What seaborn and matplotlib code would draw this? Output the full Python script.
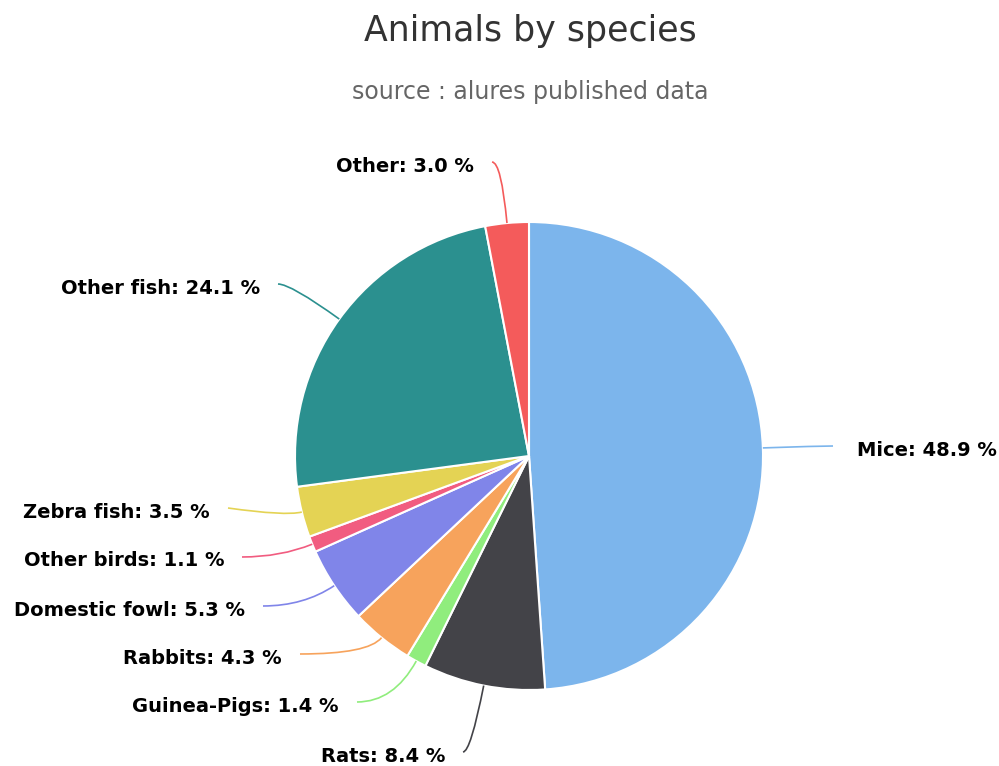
import numpy as np
import matplotlib
matplotlib.use("Agg")
import matplotlib.pyplot as plt
from matplotlib.path import Path
from matplotlib.patches import PathPatch
import seaborn as sns

""" Data """
species = ["Mice", "Rats", "Guinea-Pigs", "Rabbits", "Domestic fowl",
           "Other birds", "Zebra fish", "Other fish", "Other"]
shares = [48.9, 8.4, 1.4, 4.3, 5.3, 1.1, 3.5, 24.1, 3.0]
colors = ["#7cb5ec", "#434348", "#90ed7d", "#f7a35c", "#8085e9",
          "#f15c80", "#e4d354", "#2b908f", "#f45b5b"]

""" Layout (pixel coords, y from top) """
W, H = 999, 766
cx, cy, R = 529, 456, 234
# end of connector, label side ('left' = text sits right of point)
label_pts = [(833, 446, "left"), (463, 752, "right"), (357, 702, "right"),
             (300, 654, "right"), (263, 606, "right"), (242, 557, "right"),
             (228, 508, "right"), (278, 284, "right"), (492, 162, "right")]

sns.set_theme(style="white")
plt.rcParams["font.family"] = ["DejaVu Sans"]

fig = plt.figure(figsize=(W / 100, H / 100), dpi=100)
ax = fig.add_axes([0, 0, 1, 1])

pal = sns.color_palette(colors)
wedges, _ = ax.pie(shares, colors=pal, startangle=90, counterclock=False,
                   center=(cx, H - cy), radius=R,
                   wedgeprops=dict(edgecolor="white", linewidth=1.5))
ax.set_xlim(0, W)
ax.set_ylim(0, H)
ax.set_aspect("equal")
ax.axis("off")

for w, name, val, col, (lx, ly, side) in zip(wedges, species, shares, colors, label_pts):
    mid = np.deg2rad((w.theta1 + w.theta2) / 2)
    dx, dy = np.cos(mid), np.sin(mid)
    x0, y0 = cx + R * dx, (H - cy) + R * dy
    ex, ey = lx, H - ly
    t = abs((ey - y0) / dy) if abs(dy) > 1e-3 else 20
    t = max(8, t)
    px, py = x0 + t * dx, y0 + t * dy
    path = Path([(x0, y0), (px, py), (ex, ey)], [Path.MOVETO, Path.CURVE3, Path.CURVE3])
    ax.add_patch(PathPatch(path, fill=False, edgecolor=col, lw=1.2))
    txt = f"{name}: {val:.1f} %"
    if side == "left":
        ax.text(ex + 24, ey - 4, txt, ha="left", va="center",
                fontsize=14, fontweight="bold", color="black")
    else:
        ax.text(ex - 18, ey - 4, txt, ha="right", va="center",
                fontsize=14, fontweight="bold", color="black")

fig.text(530 / W, 1 - 31 / H, "Animals by species", ha="center", va="center",
         fontsize=25, color="#333333")
fig.text(530 / W, 1 - 92 / H, "source : alures published data", ha="center",
         va="center", fontsize=17, color="#666666")

plt.savefig("out.png", dpi=100)
